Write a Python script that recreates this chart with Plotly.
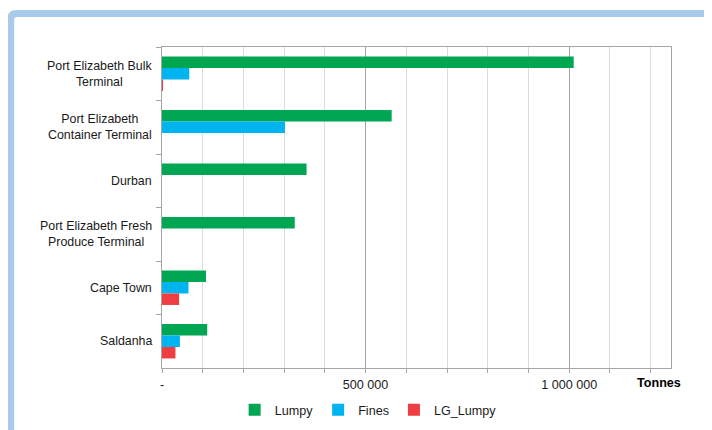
import plotly.graph_objects as go

ports = ["Port Elizabeth Bulk<br>Terminal", "Port Elizabeth<br>Container Terminal", "Durban",
         "Port Elizabeth Fresh<br>Produce Terminal", "Cape Town", "Saldanha"]
lumpy = [1011000, 564000, 355000, 326000, 108000, 111000]
fines = [67000, 302000, 0, 0, 65000, 44000]
lg_lumpy = [1500, 0, 0, 0, 42000, 33000]

x_tickvals = [0, 500000, 1000000]
x_ticktext = ["-", "500 000", "1 000 000"]

# page has an 8px body margin, so the figure starts at (8, 8)
W, H = 704, 422
L, R, T, B = 154, 41, 39, 62

def px2paper(px, py):
    # px, py in page pixels
    return (px - 8 - L) / (W - L - R), (H - B - (py - 8)) / (H - T - B)

fig = go.Figure()
fig.add_bar(y=ports, x=lumpy, name="Lumpy", orientation="h", marker_color="#00A651")
fig.add_bar(y=ports, x=fines, name="Fines", orientation="h", marker_color="#00B4EF")
fig.add_bar(y=ports, x=lg_lumpy, name="LG_Lumpy", orientation="h", marker_color="#EF3E42")
fig.update_traces(marker_line_width=0)

# port labels, centred lines like the original
for p in ports:
    fig.add_annotation(x=0, xref="paper", y=p, yref="y", text=p, showarrow=False,
                       xanchor="right", align="center", xshift=-8,
                       font=dict(family="Liberation Sans", size=12.4, color="#1a1a1a"))

fig.add_annotation(x=1000000, xref="x", y=0, yref="paper", text="<b>Tonnes</b>", showarrow=False,
                   xanchor="center", yanchor="middle", xshift=90, yshift=-15,
                   font=dict(family="Liberation Sans", size=12.6, color="#000"))

# light blue frame with rounded corner
x0, y0 = px2paper(10.7, 445)
xa, ya = px2paper(10.7, 19.5)
xb, yb = px2paper(16.7, 13.5)
xc, yc = px2paper(720, 13.5)
xq, yq = px2paper(10.7, 13.5)
fig.add_shape(type="path", xref="paper", yref="paper",
              path=f"M {x0},{y0} L {xa},{ya} Q {xq},{yq} {xb},{yb} L {xc},{yc}",
              line=dict(color="#AACAEC", width=7))

fig.update_layout(
    width=W, height=H,
    margin=dict(l=L, r=R, t=T, b=B, autoexpand=False),
    paper_bgcolor="white", plot_bgcolor="white",
    barmode="group", bargap=0.357, bargroupgap=0,
    font=dict(family="Liberation Sans", size=12.6, color="#1a1a1a"),
    legend=dict(orientation="h", x=0.405, xanchor="center", yref="container", y=0.047, yanchor="middle",
                font=dict(size=12.6), itemwidth=30, traceorder="normal"),
    xaxis=dict(range=[0, 1250000], tickmode="array", tickvals=x_tickvals, ticktext=x_ticktext,
               showgrid=True, gridcolor="#A6A6A6", gridwidth=1,
               showline=True, linecolor="#A6A6A6", linewidth=1, mirror=True,
               ticks="outside", ticklen=4, tickcolor="#A6A6A6", ticklabelstandoff=1,
               minor=dict(tickmode="linear", tick0=0, dtick=100000, showgrid=True,
                          gridcolor="#DCDCDC", ticks="outside", ticklen=4, tickcolor="#A6A6A6"),
               zeroline=False, fixedrange=True),
    yaxis=dict(categoryorder="array", categoryarray=ports, autorange="reversed",
               showticklabels=False, showgrid=False, tickson="boundaries",
               ticks="outside", ticklen=5, tickcolor="#A6A6A6",
               showline=True, linecolor="#A6A6A6", linewidth=1, mirror=True),
)

fig.write_html("out.html")
